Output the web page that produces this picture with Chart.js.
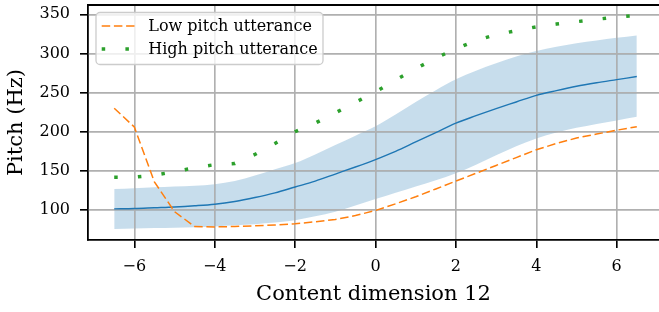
<!DOCTYPE html>
<html>
<head>
<meta charset="utf-8">
<script src="https://cdn.jsdelivr.net/npm/chart.js@4.4.1/dist/chart.umd.min.js"></script>
<style>
  html, body { margin: 0; padding: 0; background: #fff; }
  #contenedor { width: 659px; height: 312px; position: relative; }
</style>
</head>
<body>
<div id="contenedor"><canvas id="grafico"></canvas></div>
<script>
// valores
const xValores = [-6.5, -6, -5.5, -5, -4.5, -4, -3.5, -3, -2.5, -2, -1.5, -1, -0.5, 0,
  0.5, 1, 1.5, 2, 2.5, 3, 3.5, 4, 4.5, 5, 5.5, 6, 6.5];
const tonoBajo = [230, 206, 136, 98, 79, 78.5, 79, 80, 81, 82.5, 85, 88, 93, 99.5,
  108, 117, 127, 137, 147, 157, 167, 177, 185, 192, 197, 202, 206.5];
const tonoAlto = [142, 142, 144.5, 149, 154, 158, 159.5, 171, 185, 200, 211, 224, 237.5, 251,
  266, 280.5, 294, 306, 316.5, 324, 329, 334, 337.5, 340.5, 343.5, 346.5, 348.5];
const tonoMedio = [101.5, 102, 103, 104, 105.5, 107.5, 111, 116, 122, 129.5, 137, 146, 155, 164.5,
  175, 187, 199, 211, 220.5, 229.5, 238, 246.5, 252.5, 258, 262.5, 266.5, 270.5];
const bandaSuperior = [127, 128, 129, 130, 131, 133, 137, 144, 152, 160, 171, 183, 195, 207,
  222, 238, 253, 267, 278, 287.5, 296, 303, 308.5, 313, 316.5, 320, 323];
const bandaInferior = [76, 76.5, 77, 77.5, 78, 79, 80.5, 82, 84, 87, 92, 98, 106, 114,
  122, 130, 138, 147, 158, 170, 181.5, 191.5, 199, 205, 210, 214.5, 219];

const xTicks = [-6, -4, -2, 0, 2, 4, 6];
const xEtiquetas = ["\u22126", "\u22124", "\u22122", "0", "2", "4", "6"];
const yTicks = [100, 150, 200, 250, 300, 350];
const yEtiquetas = ["100", "150", "200", "250", "300", "350"];

const etiquetasLeyenda = ["Low pitch utterance", "High pitch utterance"];
const tituloX = "Content dimension 12";
const tituloY = "Pitch (Hz)";

const FUENTE = "DejaVu Serif";
Chart.defaults.font.family = FUENTE;
Chart.defaults.color = "#000";

function aPuntos(valores) {
  return valores.map((v, i) => ({ x: xValores[i], y: v }));
}

// marco superior (matplotlib dibuja los 4 lados, el derecho queda fuera del recorte)
const pluginMarco = {
  id: "marco",
  afterDatasetDraw(chart, args) {
    // la grilla va por encima de la banda, como en matplotlib
    if (args.index === 4) {
      chart.scales.x.drawGrid(chart.chartArea);
      chart.scales.y.drawGrid(chart.chartArea);
    }
  },
  afterDraw(chart) {
    const { ctx, chartArea } = chart;
    ctx.save();
    ctx.strokeStyle = "#000";
    ctx.lineWidth = 1.8;
    ctx.beginPath();
    ctx.moveTo(chartArea.left - 0.9, chartArea.top);
    ctx.lineTo(chartArea.right, chartArea.top);
    ctx.stroke();
    ctx.restore();
  },
};

// leyenda dentro del area, estilo matplotlib
const pluginLeyenda = {
  id: "leyendaMpl",
  afterDraw(chart) {
    const { ctx, chartArea } = chart;
    const x0 = chartArea.left + 8;
    const y0 = chartArea.top + 7.5;
    const ancho = 227;
    const alto = 52;
    ctx.save();
    ctx.beginPath();
    ctx.roundRect(x0, y0, ancho, alto, 4);
    ctx.fillStyle = "rgba(255,255,255,0.8)";
    ctx.fill();
    ctx.strokeStyle = "#cccccc";
    ctx.lineWidth = 1.3;
    ctx.stroke();

    etiquetasLeyenda.forEach((texto, i) => {
      const ds = chart.data.datasets[i];
      const y = y0 + 13.5 + i * 23;
      ctx.beginPath();
      ctx.setLineDash(ds.borderDash || []);
      ctx.lineDashOffset = 0;
      ctx.lineCap = "butt";
      ctx.strokeStyle = ds.borderColor;
      ctx.lineWidth = ds.borderWidth;
      ctx.moveTo(x0 + 5.7, y);
      ctx.lineTo(x0 + 38.5, y);
      ctx.stroke();
      ctx.setLineDash([]);
      ctx.fillStyle = "#000";
      ctx.font = `16px "${FUENTE}"`;
      ctx.textBaseline = "middle";
      ctx.textAlign = "left";
      ctx.fillText(texto, x0 + 52.3, y + 0.5);
    });
    ctx.restore();
  },
};

const estiloGrilla = {
  color: "#b0b0b0",
  lineWidth: 1.4,
  tickColor: "#000",
  tickWidth: 1.4,
  tickLength: 8,
};

new Chart(document.getElementById("grafico"), {
  type: "line",
  data: {
    datasets: [
      {
        label: etiquetasLeyenda[0],
        data: aPuntos(tonoBajo),
        borderColor: "#ff7f0e",
        borderWidth: 1.5,
        borderDash: [8.5, 3.7],
        pointRadius: 0,
        fill: false,
      },
      {
        label: etiquetasLeyenda[1],
        data: aPuntos(tonoAlto),
        borderColor: "#2ca02c",
        borderWidth: 3.5,
        borderDash: [3.5, 20.2],
        borderCapStyle: "butt",
        pointRadius: 0,
        fill: false,
      },
      {
        label: "media",
        data: aPuntos(tonoMedio),
        borderColor: "#1f77b4",
        borderWidth: 1.4,
        cubicInterpolationMode: "monotone",
        pointRadius: 0,
        fill: false,
      },
      {
        label: "inferior",
        data: aPuntos(bandaInferior),
        borderWidth: 0,
        borderColor: "rgba(0,0,0,0)",
        cubicInterpolationMode: "monotone",
        pointRadius: 0,
        fill: false,
      },
      {
        label: "superior",
        data: aPuntos(bandaSuperior),
        borderWidth: 0,
        borderColor: "rgba(0,0,0,0)",
        backgroundColor: "rgba(31,119,180,0.25)",
        cubicInterpolationMode: "monotone",
        pointRadius: 0,
        fill: "-1",
      },
    ],
  },
  options: {
    responsive: true,
    maintainAspectRatio: false,
    animation: false,
    layout: { padding: { top: 5, right: 0, left: 0, bottom: 0 } },
    plugins: {
      legend: { display: false },
      tooltip: { enabled: false },
    },
    scales: {
      x: {
        type: "linear",
        min: -7.152,
        max: 7.052,
        afterFit: (s) => {
          s.height = 72;
          s.paddingLeft = 0;
          s.paddingRight = 0;
        },
        afterBuildTicks: (s) => { s.ticks = xTicks.map((v) => ({ value: v })); },
        grid: estiloGrilla,
        border: { color: "#000", width: 1.8 },
        ticks: {
          font: { size: 16 },
          padding: 9,
          maxRotation: 0,
          callback: (v, i) => xEtiquetas[i],
        },
        title: {
          display: true,
          text: tituloX,
          font: { size: 21 },
          padding: { top: 0, bottom: 5 },
        },
      },
      y: {
        min: 61.8,
        max: 361.8,
        afterFit: (s) => {
          s.width = 88;
          s.paddingTop = 0;
          s.paddingBottom = 0;
        },
        afterBuildTicks: (s) => { s.ticks = yTicks.map((v) => ({ value: v })); },
        grid: estiloGrilla,
        border: { color: "#000", width: 1.8 },
        ticks: {
          font: { size: 16 },
          padding: 10,
          callback: (v, i) => yEtiquetas[i],
        },
        title: {
          display: true,
          text: tituloY,
          font: { size: 21 },
          padding: { top: 4, bottom: 0 },
        },
      },
    },
  },
  plugins: [pluginMarco, pluginLeyenda],
});
</script>
</body>
</html>
